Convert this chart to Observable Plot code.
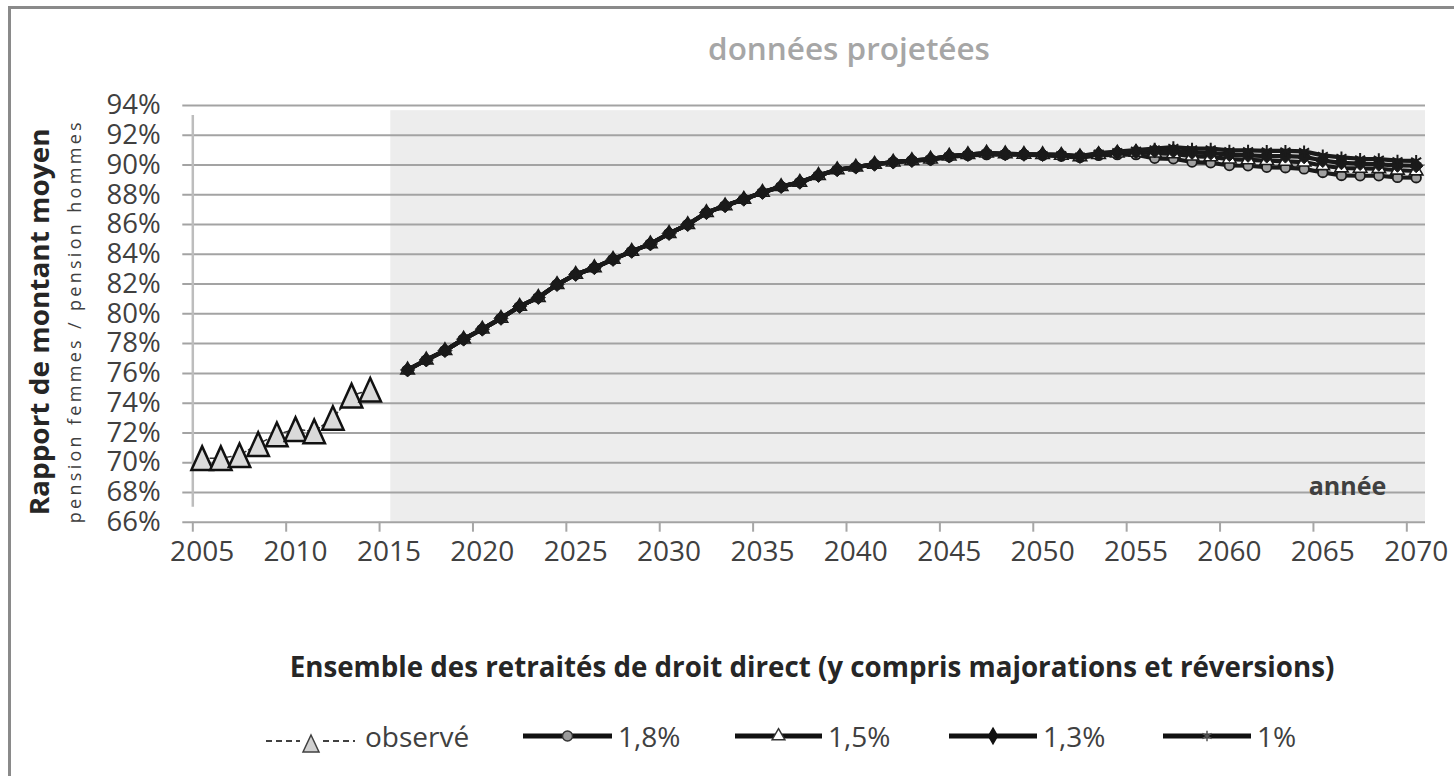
<!DOCTYPE html>
<html><head><meta charset="utf-8">
<script src="https://cdn.jsdelivr.net/npm/d3@7"></script>
<script src="https://cdn.jsdelivr.net/npm/@observablehq/plot@0.6"></script>
<style>
body{margin:0;background:#fff;}
#chart{position:relative;width:1454px;height:776px;background:#fff;overflow:hidden;font-family:"Open Sans",sans-serif;}
#frame{position:absolute;left:8px;top:6px;right:-10px;bottom:-10px;border-top:3px solid #8a8a8a;border-left:3px solid #8a8a8a;}
#title{position:absolute;left:849px;top:48px;transform:translate(-50%,-50%);color:#a6a6a6;font-weight:600;font-size:26px;white-space:nowrap;line-height:1;}
#xtitle{position:absolute;left:812px;top:667px;transform:translate(-50%,-50%);color:#262626;font-weight:700;font-size:23px;white-space:nowrap;line-height:1;}
#plot{position:absolute;left:0;top:0;}
#legend{position:absolute;left:0;top:700px;}
</style></head><body>
<div id="chart">
  <div id="frame"></div>
  <div id="plot"></div>
  <div id="title">données projetées</div>
  <div id="xtitle">Ensemble des retraités de droit direct (y compris majorations et réversions)</div>
  <svg id="legend"></svg>
</div>
<script>
// ---------- data ----------
const observedYears = [2005, 2006, 2007, 2008, 2009, 2010, 2011, 2012, 2013, 2014];
const observedValues = [70.3, 70.3, 70.5, 71.25, 71.9, 72.25, 72.1, 73.0, 74.5, 74.9];

const projectedYears = d3.range(2016, 2071);
const proj18 = [76.23, 76.9, 77.53, 78.3, 78.97, 79.7, 80.5, 81.1, 81.97, 82.65,
  83.1, 83.66, 84.2, 84.7, 85.4, 86.0, 86.8, 87.26, 87.7, 88.16,
  88.55, 88.84, 89.3, 89.68, 89.86, 90.05, 90.2, 90.3,
  90.35, 90.55, 90.65, 90.7, 90.7, 90.7, 90.65, 90.6, 90.5, 90.65, 90.7, 90.7,
  90.45, 90.42, 90.2, 90.15, 89.97, 89.95, 89.85, 89.82, 89.74, 89.5, 89.3, 89.28, 89.28, 89.17, 89.15];
const proj15 = [76.23, 76.9, 77.53, 78.3, 78.97, 79.7, 80.5, 81.1, 81.97, 82.65,
  83.1, 83.66, 84.2, 84.7, 85.4, 86.0, 86.8, 87.26, 87.7, 88.16,
  88.55, 88.84, 89.3, 89.68, 89.86, 90.05, 90.2, 90.3,
  90.4, 90.6, 90.7, 90.8, 90.75, 90.72, 90.7, 90.65, 90.55, 90.7, 90.8, 90.85,
  90.8, 90.75, 90.6, 90.55, 90.4, 90.35, 90.3, 90.25, 90.2, 89.95, 89.8, 89.78, 89.75, 89.65, 89.6];
const proj13 = [76.23, 76.9, 77.53, 78.3, 78.97, 79.7, 80.5, 81.1, 81.97, 82.65,
  83.1, 83.66, 84.2, 84.7, 85.4, 86.0, 86.8, 87.26, 87.7, 88.16,
  88.55, 88.84, 89.3, 89.68, 89.86, 90.05, 90.2, 90.3,
  90.4, 90.6, 90.7, 90.8, 90.75, 90.72, 90.7, 90.68, 90.58, 90.75, 90.85, 90.9,
  90.95, 90.95, 90.85, 90.8, 90.7, 90.65, 90.6, 90.6, 90.55, 90.3, 90.15, 90.1, 90.05, 89.98, 89.95];
const proj10 = [76.23, 76.9, 77.53, 78.3, 78.97, 79.7, 80.5, 81.1, 81.97, 82.65,
  83.1, 83.66, 84.2, 84.7, 85.4, 86.0, 86.8, 87.26, 87.7, 88.16,
  88.55, 88.84, 89.3, 89.68, 89.86, 90.05, 90.2, 90.3,
  90.4, 90.6, 90.7, 90.8, 90.75, 90.72, 90.7, 90.7, 90.6, 90.8, 90.9, 91.0,
  91.1, 91.2, 91.1, 91.1, 90.98, 90.98, 90.95, 90.95, 90.92, 90.65, 90.52, 90.42, 90.4, 90.3, 90.28];

const seriesNames = ["1,8%", "1,5%", "1,3%", "1%"];
const yTicks = [66, 68, 70, 72, 74, 76, 78, 80, 82, 84, 86, 88, 90, 92, 94];
const xTicks = [2005, 2010, 2015, 2020, 2025, 2030, 2035, 2040, 2045, 2050, 2055, 2060, 2065, 2070];
const projectedZone = [{from: 2015.6, to: 2071, bottom: 66, top: 93.65}];

const yTitle = "Rapport de montant moyen";
const ySubtitle = "pension femmes / pension hommes";
const xCorner = "année";

// ---------- symbols ----------
const excelTriangle = {draw(ctx, size) {
  const r = Math.sqrt(size / Math.PI);
  const h = r * 2.15, w = r * 1.95;
  ctx.moveTo(0, -h / 2); ctx.lineTo(w / 2, h / 2); ctx.lineTo(-w / 2, h / 2); ctx.closePath();
}};
const excelDiamond = {draw(ctx, size) {
  const r = Math.sqrt(size / Math.PI);
  ctx.moveTo(0, -r); ctx.lineTo(r, 0); ctx.lineTo(0, r); ctx.lineTo(-r, 0); ctx.closePath();
}};

const observed = observedYears.map((year, i) => ({year, value: observedValues[i]}));
const projValues = [proj18, proj15, proj13, proj10];
const projected = seriesNames.map((name, k) => projectedYears.map((year, i) => ({year, value: projValues[k][i], series: name})));

const markerStyles = [
  {symbol: "circle", r: 4.8, fill: "#a0a0a0", stroke: "#1a1a1a", strokeWidth: 1.8},
  {symbol: "triangle", r: 5, fill: "#ffffff", stroke: "#1a1a1a", strokeWidth: 1.6},
  {symbol: excelDiamond, r: 7, fill: "#1a1a1a", stroke: "#1a1a1a", strokeWidth: 1},
  {symbol: "asterisk", r: 5.5, fill: "none", stroke: "#1a1a1a", strokeWidth: 2}
];

const X = d => d.year + 0.5;

const marks = [
  Plot.rect(projectedZone, {x1: "from", x2: "to", y1: "bottom", y2: "top", fill: "#ededed"}),
  Plot.gridY(yTicks, {stroke: "#a3a3a3", strokeOpacity: 1, strokeWidth: 2, insetLeft: -10}),
  Plot.ruleX([2005], {y1: 66, y2: 94, insetTop: -15, insetBottom: -10, stroke: "#bdbdbd", strokeWidth: 2.5}),
  Plot.axisX(xTicks, {tickSize: 10, tickFormat: () => "", stroke: "#a6a6a6", strokeWidth: 2, label: null}),
  Plot.text(xTicks, {x: d => d + 0.5, text: d => String(d), frameAnchor: "bottom", dy: 19.3, lineAnchor: "top", fontSize: 28, fill: "#404040"}),
  Plot.axisY(yTicks, {tickSize: 0, tickPadding: 32, tickFormat: d => d + "%", fontSize: 27.5, fill: "#404040", label: null}),
  Plot.line(observed, {x: X, y: "value", stroke: "#333", strokeWidth: 1.5, strokeDasharray: "5,3"}),
  Plot.dot(observed, {x: X, y: "value", symbol: excelTriangle, r: 11, fill: "#dadada", stroke: "#111", strokeWidth: 2.5})
];
projected.forEach((rows, k) => {
  marks.push(Plot.line(rows, {x: X, y: "value", stroke: "#1a1a1a", strokeWidth: 4.2}));
  const m = markerStyles[k];
  marks.push(Plot.dot(rows, {x: X, y: "value", symbol: m.symbol, r: m.r, fill: m.fill, stroke: m.stroke, strokeWidth: m.strokeWidth}));
});
marks.push(
  Plot.text([yTitle], {frameAnchor: "left", rotate: -90, dx: -152, dy: 8, textAnchor: "middle", lineAnchor: "middle", fontWeight: "bold", fontSize: 27, fill: "#262626"}),
  Plot.text([ySubtitle], {frameAnchor: "left", rotate: -90, dx: -118, dy: 9, textAnchor: "middle", lineAnchor: "middle", fontSize: 18, fill: "#404040"}),
  Plot.text([xCorner], {frameAnchor: "bottom-right", dx: -78, dy: -35, textAnchor: "middle", lineAnchor: "middle", fontWeight: "bold", fontSize: 25, fill: "#404040"})
);

const plot = Plot.plot({
  width: 1454, height: 776,
  marginLeft: 192.3, marginRight: 29, marginTop: 105, marginBottom: 254.3,
  x: {domain: [2005, 2071], axis: null},
  y: {domain: [66, 94], axis: null},
  style: {fontFamily: "Open Sans", fontSize: "28px", color: "#404040", background: "transparent", overflow: "visible"},
  marks
});
document.getElementById("plot").appendChild(plot);

d3.select(plot).selectAll("text").each(function() {
  if (this.textContent === yTitle) { this.setAttribute("textLength", 387); this.setAttribute("lengthAdjust", "spacingAndGlyphs"); }
  if (this.textContent === ySubtitle) { this.setAttribute("textLength", 401); this.setAttribute("lengthAdjust", "spacing"); }
});

function fit(id, target) {
  const el = document.getElementById(id);
  const w = el.getBoundingClientRect().width;
  const fs = parseFloat(getComputedStyle(el).fontSize);
  el.style.fontSize = (fs * target / w) + "px";
}
fit("title", 282);
fit("xtitle", 1045);

// ---------- legend ----------
const lg = d3.select("#legend").attr("width", 1454).attr("height", 76);
const txt = (x, s) => lg.append("text").attr("x", x).attr("y", 47).attr("font-family", "Open Sans").attr("font-size", 28).attr("fill", "#404040").text(s);
lg.append("line").attr("x1", 266).attr("x2", 300).attr("y1", 41).attr("y2", 41).attr("stroke", "#404040").attr("stroke-width", 2).attr("stroke-dasharray", "6,4");
lg.append("line").attr("x1", 323).attr("x2", 355).attr("y1", 41).attr("y2", 41).attr("stroke", "#404040").attr("stroke-width", 2).attr("stroke-dasharray", "6,4");
lg.append("path").attr("d", "M311,35 L319,52 L303,52 Z").attr("fill", "#d0d0d0").attr("stroke", "#404040").attr("stroke-width", 1.5);
txt(365, "observé");
const legendItems = [
  {x0: 523, x1: 612, label: seriesNames[0], sym: d3.symbolCircle, size: 80, fill: "#9a9a9a", stroke: "#333"},
  {x0: 735, x1: 822, label: seriesNames[1], sym: d3.symbolTriangle, size: 70, fill: "#fff", stroke: "#333"},
  {x0: 949, x1: 1037, label: seriesNames[2], sym: d3.symbolDiamond, size: 70, fill: "#111", stroke: "#111"},
  {x0: 1163, x1: 1251, label: seriesNames[3], sym: d3.symbolAsterisk, size: 80, fill: "none", stroke: "#555"}
];
legendItems.forEach(it => {
  lg.append("line").attr("x1", it.x0).attr("x2", it.x1).attr("y1", 36).attr("y2", 36).attr("stroke", "#111").attr("stroke-width", 5);
  lg.append("path").attr("transform", `translate(${(it.x0 + it.x1) / 2},36)`).attr("d", d3.symbol(it.sym, it.size)()).attr("fill", it.fill).attr("stroke", it.stroke).attr("stroke-width", 1.5);
  txt(it.x1 + 6, it.label);
});
</script>
</body></html>
